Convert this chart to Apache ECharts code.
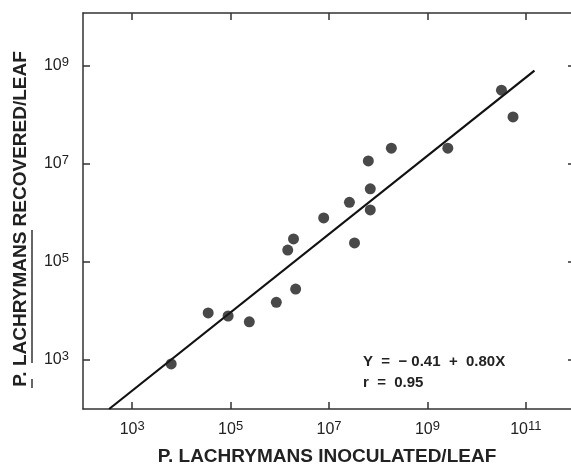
<!DOCTYPE html>
<html><head><meta charset="utf-8">
<script src="https://cdn.jsdelivr.net/npm/echarts@6/dist/echarts.min.js"></script>
<style>html,body{margin:0;padding:0;background:#fff}#c{width:571px;height:472px}</style>
</head><body><div id="c"></div>
<script>
// P. lachrymans inoculated/leaf vs recovered/leaf
const inoculated = [6.2e3, 3.5e4, 8.9e4, 2.4e5, 8.5e5, 2.1e6, 1.45e6, 1.9e6, 3.3e7, 7.8e6, 2.6e7, 6.9e7, 6.9e7, 6.3e7, 1.85e8, 2.6e9, 3.2e10, 5.5e10];
const recovered  = [830, 9.1e3, 7.9e3, 6.0e3, 1.5e4, 2.8e4, 1.75e5, 2.95e5, 2.45e5, 7.9e5, 1.65e6, 3.1e6, 1.15e6, 1.15e7, 2.1e7, 2.1e7, 3.2e8, 9.1e7];
const fitX = [3.4e2, 1.5e11];
const fitY = [1e2, 8e8];
const xTicks = [1e3, 1e5, 1e7, 1e9, 1e11];
const yTicks = [1e3, 1e5, 1e7, 1e9];
const xTitle = 'P. LACHRYMANS INOCULATED/LEAF';
const yTitle = 'P. LACHRYMANS RECOVERED/LEAF';
const eqLine1 = 'Y  =  \u2212 0.41  +  0.80X';
const eqLine2 = 'r  =  0.95';

const FONT = '"Liberation Sans", Arial, Helvetica, sans-serif';
const INK = '#222';
const AX = '#333';

const pts = inoculated.map((x, i) => [x, recovered[i]]);
const fit = fitX.map((x, i) => [x, fitY[i]]);

const powFmt = v => '{b|10}{s|' + Math.round(Math.log10(v)) + '}';
const rich = {
  b: {fontSize: 16, lineHeight: 16, fontFamily: FONT, color: INK, verticalAlign: 'bottom'},
  s: {fontSize: 13, lineHeight: 13, fontFamily: FONT, color: INK, verticalAlign: 'bottom', padding: [0, 0, 5, 0]}
};

const baseAxis = (extra) => Object.assign({
  type: 'log', logBase: 10,
  axisLine: {show: true, onZero: false, lineStyle: {color: AX, width: 1.5}},
  splitLine: {show: false},
  minorTick: {show: false}
}, extra);

const chart = echarts.init(document.getElementById('c'), null, {renderer: 'canvas'});
chart.setOption({
  animation: false,
  backgroundColor: '#fff',
  grid: {left: 83, top: 13, right: -4, bottom: 63, containLabel: false, outerBoundsMode: 'none'},
  xAxis: [
    baseAxis({position: 'bottom', min: 1e2, max: 1e12,
      axisTick: {show: true, inside: true, length: 7, lineStyle: {color: AX, width: 1.5}, customValues: xTicks},
      axisLabel: {show: true, margin: 13, formatter: powFmt, rich: rich, customValues: xTicks}}),
    baseAxis({position: 'top', min: 1e2, max: 1e12,
      axisTick: {show: true, inside: true, length: 7, lineStyle: {color: AX, width: 1.5}, customValues: xTicks},
      axisLabel: {show: false, customValues: xTicks}})
  ],
  yAxis: [
    baseAxis({position: 'left', min: 1e2, max: 1.2e10,
      axisTick: {show: true, inside: true, length: 7, lineStyle: {color: AX, width: 1.5}, customValues: yTicks},
      axisLabel: {show: true, margin: 14, formatter: powFmt, rich: rich, customValues: yTicks}}),
    baseAxis({position: 'right', min: 1e2, max: 1.2e10,
      axisTick: {show: true, inside: true, length: 7, lineStyle: {color: AX, width: 1.5}, customValues: yTicks},
      axisLabel: {show: false, customValues: yTicks}})
  ],
  series: [
    {type: 'line', data: fit, xAxisIndex: 0, yAxisIndex: 0, showSymbol: false, symbol: 'none',
      clip: true, lineStyle: {color: '#111', width: 2.2}, z: 2},
    {type: 'scatter', data: pts, xAxisIndex: 0, yAxisIndex: 0, symbol: 'circle', symbolSize: 11,
      itemStyle: {color: '#1c1c1c'}, z: 3}
  ],
  graphic: [
    {type: 'text', x: 327, y: 457, style: {text: xTitle, textAlign: 'center', textVerticalAlign: 'middle',
      font: 'bold 19px ' + FONT, fill: INK}},
    {type: 'text', x: 21, y: 219, rotation: Math.PI / 2, style: {text: yTitle, textAlign: 'center', textVerticalAlign: 'middle',
      font: 'bold 19px ' + FONT, fill: INK}},
    {type: 'line', shape: {x1: 32, y1: 230, x2: 32, y2: 363}, style: {stroke: AX, lineWidth: 1.5}},
    {type: 'line', shape: {x1: 32, y1: 379, x2: 32, y2: 388}, style: {stroke: AX, lineWidth: 1.5}},
    {type: 'text', x: 363, y: 362, style: {text: eqLine1, textAlign: 'left', textVerticalAlign: 'middle',
      font: 'bold 15px ' + FONT, fill: INK}},
    {type: 'text', x: 363, y: 383, style: {text: eqLine2, textAlign: 'left', textVerticalAlign: 'middle',
      font: 'bold 15px ' + FONT, fill: INK}}
  ]
});
</script></body></html>
